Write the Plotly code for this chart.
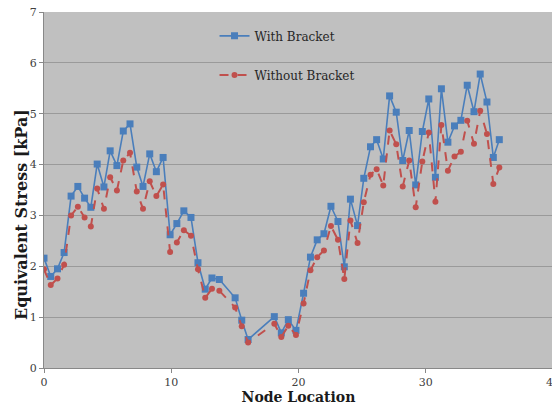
import plotly.graph_objects as go

node_x = [0.0, 0.53, 1.06, 1.58, 2.13, 2.66, 3.19, 3.68, 4.18, 4.71, 5.2, 5.73, 6.23,
          6.76, 7.29, 7.78, 8.31, 8.83, 9.36, 9.91, 10.44, 10.99, 11.55, 12.1, 12.67,
          13.2, 13.78, 15.02, 15.54, 16.04, 18.1, 18.65, 19.2, 19.8, 20.4, 20.94,
          21.47, 22.0, 22.55, 23.1, 23.6, 24.08, 24.64, 25.13, 25.66, 26.14, 26.66,
          27.16, 27.68, 28.19, 28.7, 29.21, 29.73, 30.24, 30.76, 31.23, 31.74, 32.26,
          32.76, 33.26, 33.79, 34.28, 34.81, 35.31, 35.78]

with_bracket = [2.16, 1.80, 1.95, 2.27, 3.38, 3.57, 3.34, 3.16, 4.01, 3.56, 4.27, 3.98, 4.66,
                4.80, 3.95, 3.57, 4.21, 3.86, 4.14, 2.62, 2.84, 3.09, 2.96, 2.07, 1.55,
                1.77, 1.74, 1.38, 0.94, 0.56, 1.01, 0.69, 0.95, 0.74, 1.47, 2.18,
                2.52, 2.64, 3.18, 2.88, 1.99, 3.32, 2.80, 3.73, 4.35, 4.49, 4.11,
                5.35, 5.03, 4.08, 4.67, 3.60, 4.65, 5.29, 3.75, 5.49, 4.44, 4.76,
                4.87, 5.56, 5.04, 5.78, 5.23, 4.14, 4.49]

without_bracket = [1.94, 1.63, 1.76, 2.03, 3.00, 3.17, 2.96, 2.78, 3.53, 3.13, 3.75, 3.49, 4.08,
                   4.23, 3.47, 3.13, 3.67, 3.38, 3.61, 2.28, 2.47, 2.71, 2.60, 1.94, 1.38,
                   1.56, 1.52, 1.19, 0.82, 0.50, 0.87, 0.61, 0.83, 0.65, 1.27, 1.92,
                   2.18, 2.31, 2.79, 2.52, 1.75, 2.90, 2.46, 3.26, 3.80, 3.91, 3.59,
                   4.67, 4.40, 3.57, 4.08, 3.16, 4.06, 4.63, 3.27, 4.78, 3.88, 4.16,
                   4.25, 4.86, 4.41, 5.06, 4.60, 3.62, 3.94]

x_ticks = [0, 10, 20, 30, 40]
y_ticks = [0, 1, 2, 3, 4, 5, 6, 7]

serif = "DejaVu Serif"

fig = go.Figure()
fig.add_trace(go.Scatter(
    x=node_x, y=with_bracket, mode="lines+markers", name="With Bracket",
    line=dict(color="#4a7ebb", width=1.6),
    marker=dict(symbol="square", size=7, color="#4a7ebb"),
    legend="legend",
))
fig.add_trace(go.Scatter(
    x=node_x, y=without_bracket, mode="lines+markers", name="Without Bracket",
    line=dict(color="#c0504d", width=2, dash="dash"),
    marker=dict(symbol="circle", size=6, color="#c0504d"),
    legend="legend2",
))

legend_style = dict(
    xanchor="left", yanchor="middle", bgcolor="rgba(0,0,0,0)",
    font=dict(family=serif, size=12, color="#262626"), itemwidth=30,
    borderwidth=0,
)

# page body has an 8px margin, so the figure is drawn 8px smaller
fig.update_layout(
    width=552, height=399,
    margin=dict(l=36, r=7, t=4, b=39),
    paper_bgcolor="white",
    plot_bgcolor="#c0c0c0",
    font=dict(family=serif, size=11, color="#404040"),
    showlegend=True,
    legend=dict(x=0.335, y=0.933, **legend_style),
    legend2=dict(x=0.335, y=0.823, **legend_style),
    xaxis=dict(
        range=[0, 40], tickvals=x_ticks, ticks="outside", ticklen=4,
        tickcolor="#888888", showline=True, linecolor="#888888", linewidth=1,
        showgrid=False, zeroline=False, automargin=False,
        ticklabeloverflow="allow",
        title=dict(text="<b>Node Location</b>", standoff=3,
                   font=dict(family=serif, size=14, color="#1a1a1a")),
    ),
    yaxis=dict(
        range=[0, 7], tickvals=y_ticks, ticks="outside", ticklen=4,
        tickcolor="#888888", showline=True, linecolor="#888888", linewidth=1,
        showgrid=True, gridcolor="#9a9a9a", gridwidth=1, zeroline=False,
        automargin=False, ticklabeloverflow="allow",
    ),
    annotations=[dict(
        text="<b>Equivalent Stress [kPa]</b>", textangle=-90,
        xref="paper", yref="paper", x=-0.043, y=0.43,
        xanchor="center", yanchor="middle", showarrow=False,
        font=dict(family=serif, size=16, color="#1a1a1a"),
    )],
)

fig.write_html("out.html")
